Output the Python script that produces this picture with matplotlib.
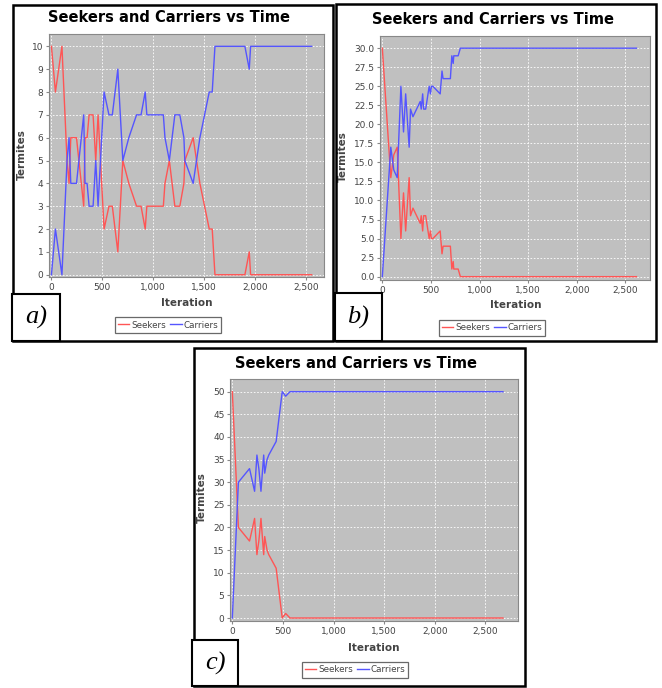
import matplotlib
matplotlib.use('Agg')
import matplotlib.pyplot as plt
from matplotlib.patches import Rectangle
from matplotlib.lines import Line2D
from matplotlib.ticker import FuncFormatter, MultipleLocator

# panel a) - 10 termites
a_iter = [0, 39, 103, 153, 173, 190, 246, 317, 330, 350, 370, 409, 435, 458, 517, 565, 598, 652, 701, 760,
          836, 880, 921, 937, 1099, 1115, 1158, 1212, 1261, 1301, 1310, 1392, 1458, 1550, 1579, 1606, 1900, 1943, 1956, 2556]
a_seekers = [10, 8, 10, 5, 4, 6, 6, 3, 6, 6, 7, 7, 5, 7, 2, 3, 3, 1, 5, 4,
             3, 3, 2, 3, 3, 4, 5, 3, 3, 4, 5, 6, 4, 2, 2, 0, 0, 1, 0, 0]
a_carriers = [0, 2, 0, 5, 6, 4, 4, 7, 4, 4, 3, 3, 5, 3, 8, 7, 7, 9, 5, 6,
              7, 7, 8, 7, 7, 6, 5, 7, 7, 6, 5, 4, 6, 8, 8, 10, 10, 9, 10, 10]

# panel b) - 30 termites
b_iter = [0, 87, 118, 153, 191, 218, 240, 276, 290, 315, 390, 400, 415, 425, 446, 482, 495, 505, 520, 595,
          614, 625, 700, 715, 729, 735, 780, 803, 2615]
b_seekers = [30, 13, 16, 17, 5, 11, 6, 13, 8, 9, 7, 8, 6, 8, 8, 5, 6, 5, 5, 6,
             3, 4, 4, 1, 2, 1, 1, 0, 0]
b_carriers = [0, 17, 14, 13, 25, 19, 24, 17, 22, 21, 23, 22, 24, 22, 22, 25, 24, 25, 25, 24,
              27, 26, 26, 29, 28, 29, 29, 30, 30]

# panel c) - 50 termites
c_iter = [0, 60, 170, 220, 243, 262, 283, 310, 320, 343, 360, 433, 493, 527, 570, 2675]
c_seekers = [50, 20, 17, 22, 14, 17, 22, 14, 18, 15, 14, 11, 0, 1, 0, 0]
c_carriers = [0, 30, 33, 28, 36, 33, 28, 36, 32, 35, 36, 39, 50, 49, 50, 50]

W, H = 662, 688
RED = '#FF5555'
BLUE = '#5555FF'
TXT = '#444444'

fig = plt.figure(figsize=(W / 100, H / 100), dpi=100)
fig.patch.set_facecolor('white')


def fx(x):
    return x / W


def fy(y):
    return 1 - y / H


def rect(x0, y0, x1, y1, lw=1.8, fill=False, z=5):
    r = Rectangle((fx(x0), fy(y1)), fx(x1 - x0), (y1 - y0) / H, transform=fig.transFigure,
                  fill=fill, facecolor='white', edgecolor='black', lw=lw, zorder=z)
    fig.patches.append(r)


def panel(it, seek, carr, frame, area, xlim, ylim, ystep, yfmt, title_xy, xlab_xy, ylab_xy, leg_xy, lbox, lab):
    rect(*frame)
    x0, y0, x1, y1 = area
    ax = fig.add_axes([fx(x0), fy(y1), fx(x1 - x0), (y1 - y0) / H])
    ax.set_facecolor('#C0C0C0')
    ax.plot(it, seek, color=RED, lw=1)
    ax.plot(it, carr, color=BLUE, lw=1)
    ax.set_xlim(*xlim)
    ax.set_ylim(*ylim)
    ax.xaxis.set_major_locator(MultipleLocator(500))
    ax.yaxis.set_major_locator(MultipleLocator(ystep))
    ax.xaxis.set_major_formatter(FuncFormatter(lambda v, p: '{:,.0f}'.format(v)))
    ax.yaxis.set_major_formatter(FuncFormatter(lambda v, p: yfmt.format(v)))
    ax.grid(True, color='white', linestyle=(0, (2, 2)), lw=0.6)
    ax.set_axisbelow(True)
    for s in ax.spines.values():
        s.set_color('#888888')
        s.set_linewidth(0.8)
    ax.tick_params(colors='#888888', labelcolor=TXT, labelsize=6.5, length=2, pad=2)

    fig.text(fx(title_xy[0]), fy(title_xy[1]), 'Seekers and Carriers vs Time', ha='center', va='center',
             fontsize=10.5, fontweight='bold')
    fig.text(fx(xlab_xy[0]), fy(xlab_xy[1]), 'Iteration', ha='center', va='center',
             fontsize=7.5, fontweight='bold', color=TXT)
    fig.text(fx(ylab_xy[0]), fy(ylab_xy[1]), 'Termites', ha='center', va='center', rotation=90,
             fontsize=7.5, fontweight='bold', color=TXT)

    handles = [Line2D([], [], color=RED, lw=1), Line2D([], [], color=BLUE, lw=1)]
    leg = fig.legend(handles, ['Seekers', 'Carriers'], loc='center', bbox_to_anchor=(fx(leg_xy[0]), fy(leg_xy[1])),
                     ncol=2, fontsize=6.3, frameon=True, fancybox=False, handlelength=1.3,
                     handletextpad=0.2, columnspacing=0.5, borderpad=0.35, borderaxespad=0)
    leg.get_frame().set_edgecolor('#444444')
    leg.get_frame().set_linewidth(0.9)
    for t in leg.get_texts():
        t.set_color(TXT)

    rect(*lbox, lw=1.5, fill=True, z=6)
    fig.text(fx((lbox[0] + lbox[2]) / 2), fy((lbox[1] + lbox[3]) / 2), lab, ha='center', va='center',
             fontsize=19, style='italic', family='Liberation Serif', zorder=7)
    return ax


panel(a_iter, a_seekers, a_carriers, (13, 5, 333, 341), (49, 34, 324, 277), (-24, 2677), (-0.1, 10.54), 1, '{:.0f}',
      (169, 18), (187, 303), (22, 155), (168, 325), (12, 294, 60, 341), 'a)')
panel(b_iter, b_seekers, b_carriers, (336, 4, 656, 341), (380, 36, 650, 280), (-24, 2754), (-0.44, 31.6), 2.5, '{:.1f}',
      (493, 20), (516, 305), (343, 157), (492, 328), (335, 293, 382, 341), 'b)')
panel(c_iter, c_seekers, c_carriers, (194, 348, 525, 686), (230, 379, 518, 621), (-23, 2823), (-0.66, 52.8), 5, '{:.0f}',
      (356, 363), (374, 648), (202, 498), (355, 670), (192, 640, 238, 686), 'c)')

fig.savefig('out.png', dpi=100)
